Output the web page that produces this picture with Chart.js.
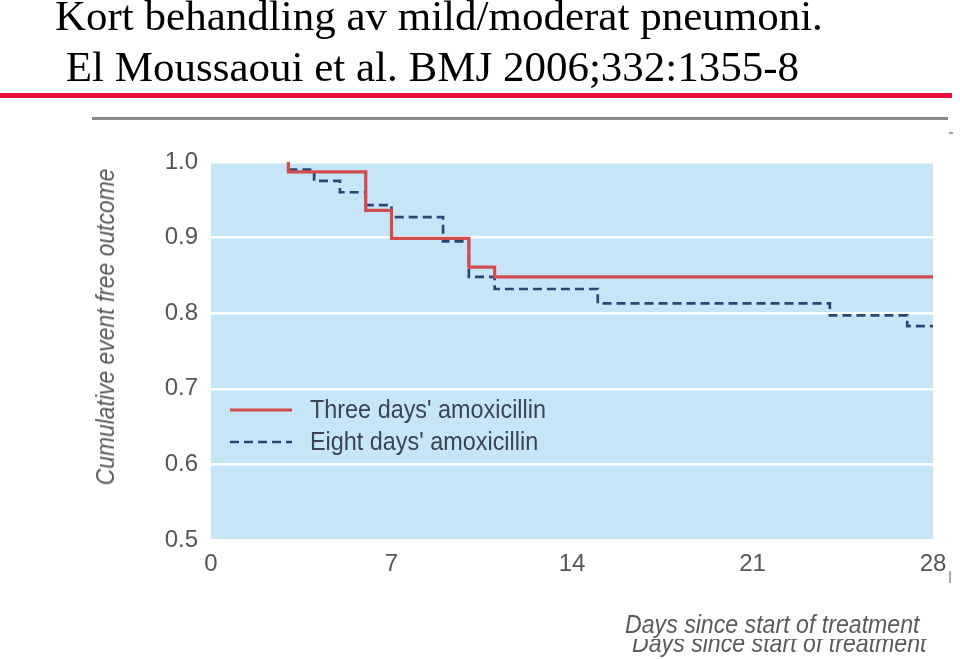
<!DOCTYPE html>
<html>
<head>
<meta charset="utf-8">
<script src="https://cdn.jsdelivr.net/npm/chart.js@4.4.0/dist/chart.umd.min.js"></script>
<style>
  html, body { margin:0; padding:0; background:#fff; width:960px; height:659px; overflow:hidden; }
  #wrap { position:relative; width:960px; height:659px; }
  canvas { position:absolute; left:0; top:0; }
  .hdr { position:absolute; left:55px; font-family:'Liberation Serif','Times New Roman',serif; font-size:43px; color:#000; white-space:pre; line-height:1; }
  .ax { position:absolute; font-family:'Liberation Sans',Arial,sans-serif; font-style:italic; font-size:26px; color:#5a5a5a; white-space:pre; line-height:1; }
</style>
</head>
<body>
<div id="wrap">
  <canvas id="c" width="960" height="659"></canvas>
  <div class="hdr" style="top:-6px;">Kort behandling av mild/moderat pneumoni.</div>
  <div class="hdr" style="top:45px;"> El Moussaoui et al. BMJ 2006;332:1355-8</div>
  <div style="position:absolute;left:0;top:93px;width:952px;height:5px;background:#e8123c;"></div>
  <div style="position:absolute;left:92px;top:117px;width:856px;height:3px;background:#8a8a8a;"></div>
  <div style="position:absolute;left:949px;top:132px;width:4px;height:2px;background:#999;"></div>
  <div style="position:absolute;left:949px;top:571px;width:2px;height:12px;background:#aaa;"></div>
  <div class="ax" id="ytitle" style="left:105px;top:327px;transform:translate(-50%,-50%) rotate(-90deg) scaleX(0.88);">Cumulative event free outcome</div>
  <div class="ax" id="xtitle" style="left:625px;top:611px;transform-origin:0 0;transform:scaleX(0.89);">Days since start of treatment</div>
  <div style="position:absolute;left:632px;top:639px;width:320px;height:20px;overflow:hidden;">
    <div class="ax" style="position:absolute;left:0;top:-9px;transform-origin:0 0;transform:scaleX(0.89);">Days since start of treatment</div>
  </div>
</div>
<script>
const xTicks = [0, 7, 14, 21, 28];
const yTicks = [0.5, 0.6, 0.7, 0.8, 0.9, 1.0];
const threeDaysX = [3, 3, 6, 7, 10, 11, 28];
const threeDaysY = [1.0, 0.987, 0.936, 0.899, 0.861, 0.848, 0.848];
const eightDaysX = [3, 4, 5, 6, 7, 9, 10, 11, 15, 24, 27, 28];
const eightDaysY = [0.99, 0.975, 0.96, 0.943, 0.927, 0.895, 0.848, 0.832, 0.813, 0.797, 0.783, 0.783];
const seriesLabels = ["Three days' amoxicillin", "Eight days' amoxicillin"];

const FONT = "'Liberation Sans',Arial,sans-serif";

const bgPlugin = {
  id: 'bg',
  beforeDraw(chart) {
    const a = chart.chartArea, ctx = chart.ctx;
    ctx.save();
    ctx.fillStyle = '#c6e6f8';
    ctx.fillRect(a.left, a.top, a.right - a.left, a.bottom - a.top);
    ctx.restore();
  }
};

const legendPlugin = {
  id: 'innerLegend',
  afterDatasetsDraw(chart) {
    const ctx = chart.ctx;
    const rows = [410, 442];
    ctx.save();
    chart.data.datasets.forEach((ds, i) => {
      const y = rows[i];
      ctx.beginPath();
      ctx.strokeStyle = ds.borderColor;
      ctx.lineWidth = ds.borderWidth;
      ctx.setLineDash(ds.borderDash || []);
      ctx.moveTo(230, y);
      ctx.lineTo(292, y);
      ctx.stroke();
      ctx.setLineDash([]);
      ctx.save();
      ctx.translate(310, y + 1);
      ctx.scale(0.9, 1);
      ctx.fillStyle = '#3c4452';
      ctx.font = '26px ' + FONT;
      ctx.textBaseline = 'middle';
      ctx.textAlign = 'left';
      ctx.fillText(ds.label, 0, 0);
      ctx.restore();
    });
    ctx.restore();
  }
};

new Chart(document.getElementById('c'), {
  type: 'line',
  data: {
    datasets: [
      {
        label: seriesLabels[0],
        data: threeDaysX.map((x, i) => ({ x: x, y: threeDaysY[i] })),
        borderColor: '#d24c4c',
        borderWidth: 3.2,
        stepped: 'before',
        pointRadius: 0,
        fill: false
      },
      {
        label: seriesLabels[1],
        data: eightDaysX.map((x, i) => ({ x: x, y: eightDaysY[i] })),
        borderColor: '#2c4674',
        borderWidth: 2.7,
        borderDash: [9, 5],
        stepped: 'before',
        pointRadius: 0,
        fill: false
      }
    ]
  },
  options: {
    responsive: false,
    animation: false,
    devicePixelRatio: 1,
    layout: { padding: { left: 0, right: 27, top: 162, bottom: 79 } },
    plugins: { legend: { display: false }, tooltip: { enabled: false } },
    scales: {
      x: {
        type: 'linear',
        min: 0, max: 28,
        afterFit(s) { s.height = 40; },
        afterBuildTicks(s) { s.ticks = xTicks.map(v => ({ value: v })); },
        grid: { display: false },
        border: { display: false },
        ticks: { color: '#555', font: { family: FONT, size: 24 }, padding: 2 }
      },
      y: {
        type: 'linear',
        min: 0.5, max: 1.0,
        afterFit(s) { s.width = 211; },
        afterBuildTicks(s) { s.ticks = yTicks.map(v => ({ value: v })); },
        grid: { color: '#ffffff', lineWidth: 2.5, drawTicks: false },
        border: { display: false },
        ticks: { color: '#555', font: { family: FONT, size: 24 }, padding: 13, callback: v => Number(v).toFixed(1) }
      }
    }
  },
  plugins: [bgPlugin, legendPlugin]
});
</script>
</body>
</html>
